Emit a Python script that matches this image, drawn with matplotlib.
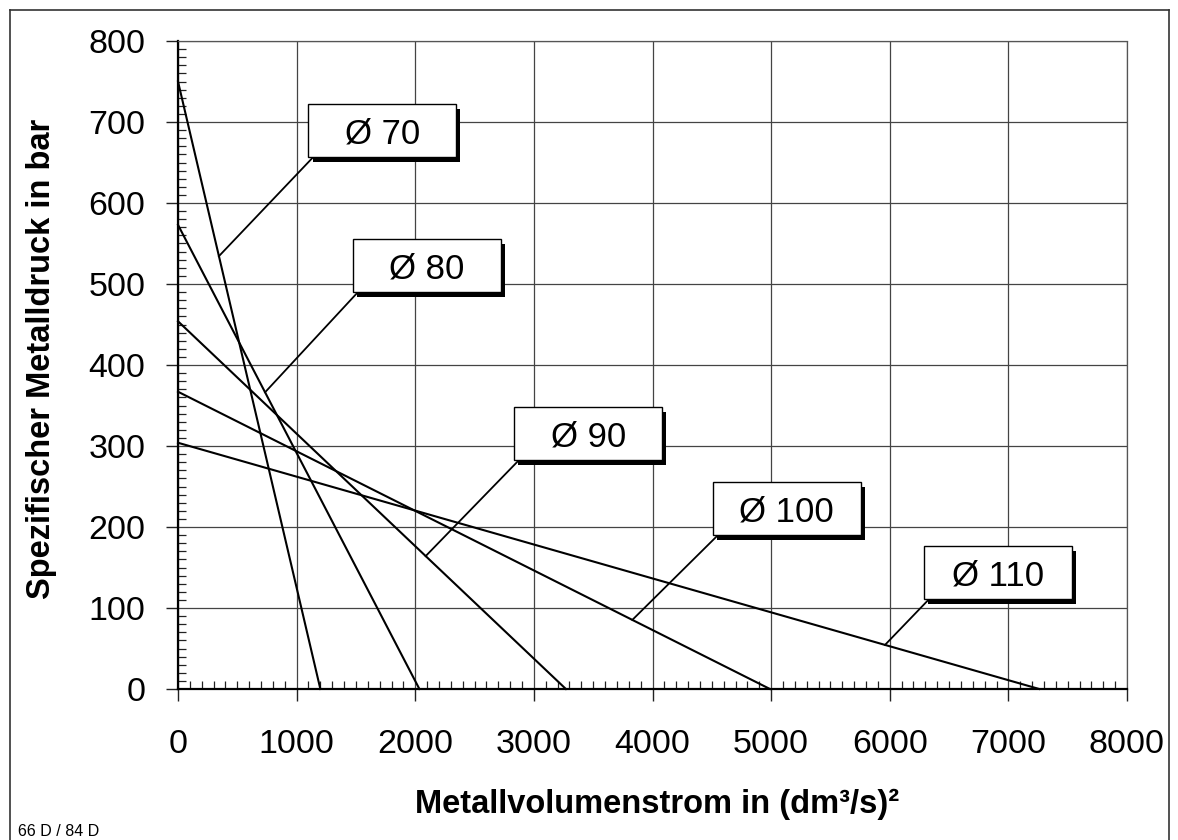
import numpy as np
import matplotlib.pyplot as plt
from matplotlib.patches import Rectangle
from matplotlib.lines import Line2D

plt.rcParams['font.family'] = ['Liberation Sans', 'DejaVu Sans']

# ===== DATEN =====

durchmesser = ["Ø 70", "Ø 80", "Ø 90", "Ø 100", "Ø 110"]
druck_max = [750, 573, 454, 367, 304]          # bar bei Volumenstrom 0
volumen_max = [1200, 2035, 3270, 4990, 7260]   # (dm³/s)² bei Druck 0

x_ticks = [0, 1000, 2000, 3000, 4000, 5000, 6000, 7000, 8000]
y_ticks = [0, 100, 200, 300, 400, 500, 600, 700, 800]

# ===== LAYOUT DER BESCHRIFTUNGEN =====

box_pos = [(1100, 657), (1475, 490), (2835, 283), (4510, 190), (6290, 111)]
leader_x = [345, 734, 2088, 3830, 5960]
BOX_W, BOX_H = 1245, 65
SCHATTEN_DX, SCHATTEN_DY = 34, -6

# ===== GRAFIK =====

fig = plt.figure(figsize=(11.78, 8.40), dpi=100)
ax = fig.add_axes([178 / 1178, 151 / 840, 949 / 1178, 648 / 840])

ax.set_xlim(0, 8000)
ax.set_ylim(0, 800)
ax.set_xticks(x_ticks)
ax.set_yticks(y_ticks)
ax.set_xticks(np.arange(0, 8001, 100), minor=True)
ax.set_yticks(np.arange(0, 801, 10), minor=True)
ax.set_xticklabels([str(t) for t in x_ticks], fontsize=24.5)
ax.set_yticklabels([str(t) for t in y_ticks], fontsize=24.5)

ax.tick_params(which='major', direction='out', length=8.6, width=1.0,
               color='#222222')
ax.tick_params(axis='x', which='major', pad=20)
ax.tick_params(axis='y', which='major', pad=15)
ax.tick_params(which='minor', direction='in', length=5.8, width=0.9,
               color='#222222')

ax.grid(True, which='major', color='#444444', linewidth=0.9)
ax.set_axisbelow(True)

for s in ['left', 'bottom']:
    ax.spines[s].set_linewidth(1.6)
    ax.spines[s].set_color('black')
for s in ['top', 'right']:
    ax.spines[s].set_linewidth(0.9)
    ax.spines[s].set_color('#555555')
    ax.spines[s].set_linestyle((0, (2, 1)))

ax.set_xlabel("Metallvolumenstrom in (dm³/s)²", fontsize=23.5, fontweight='bold')
ax.set_ylabel("Spezifischer Metalldruck in bar", fontsize=23.5, fontweight='bold')
ax.xaxis.set_label_coords(0.505, -0.154)
ax.yaxis.set_label_coords(-0.127, 0.51)

for i in range(len(durchmesser)):

    xs = [0, volumen_max[i]]
    ys = [druck_max[i], 0]

    ax.plot(xs, ys, color='black', linewidth=1.5, zorder=3, clip_on=False)

    ly = np.interp(leader_x[i], xs, ys)
    bx, by = box_pos[i]

    ax.plot([bx + 42, leader_x[i]], [by, ly], color='black', linewidth=1.3,
            zorder=3)

    ax.add_patch(Rectangle((bx + SCHATTEN_DX, by + SCHATTEN_DY), BOX_W, BOX_H,
                           facecolor='black', edgecolor='none', zorder=4))
    ax.add_patch(Rectangle((bx, by), BOX_W, BOX_H, facecolor='white',
                           edgecolor='black', linewidth=1.0, zorder=5))
    ax.text(bx + BOX_W / 2, by + BOX_H / 2 - 4, durchmesser[i], fontsize=25,
            ha='center', va='center', zorder=6)

# ===== RAHMEN =====

W, H = 1178, 840
rahmen = [([10, 10], [0, 830]), ([10, 1169], [830, 830]),
          ([1169, 1169], [830, 0])]
for rx, ry in rahmen:
    fig.add_artist(Line2D([x / W for x in rx], [y / H for y in ry],
                          color='#333333', linewidth=1.2))

fig.text(18 / W, 4 / H, "66 D / 84 D", fontsize=11.5, va='baseline')

fig.savefig("out.png", dpi=100)
